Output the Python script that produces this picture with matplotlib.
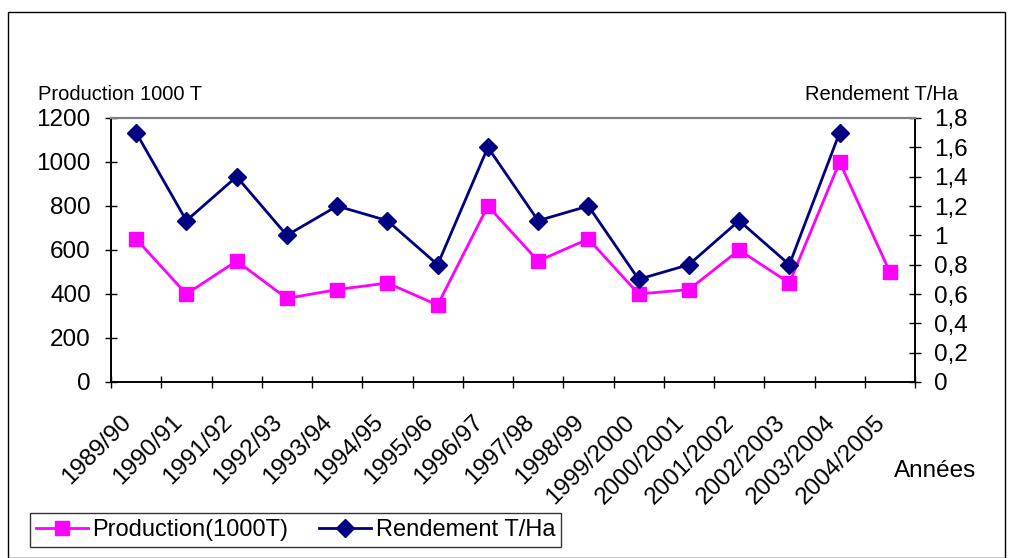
import numpy as np
import matplotlib
matplotlib.use("Agg")
import matplotlib.pyplot as plt
from matplotlib.patches import Rectangle

plt.rcParams['font.family'] = ['Liberation Sans', 'DejaVu Sans']

# données
annees = ["1989/90", "1990/91", "1991/92", "1992/93", "1993/94", "1994/95",
          "1995/96", "1996/97", "1997/98", "1998/99", "1999/2000", "2000/2001",
          "2001/2002", "2002/2003", "2003/2004", "2004/2005"]
production = [650, 400, 550, 380, 420, 450, 350, 800, 550, 650, 400, 420,
              600, 450, 1000, 500]
rendement = [1.7, 1.1, 1.4, 1.0, 1.2, 1.1, 0.8, 1.6, 1.1, 1.2, 0.7, 0.8,
             1.1, 0.8, 1.7, np.nan]

left_ticks = [0, 200, 400, 600, 800, 1000, 1200]
right_ticks = [0, 0.2, 0.4, 0.6, 0.8, 1.0, 1.2, 1.4, 1.6, 1.8]
right_labels = ["0", "0,2", "0,4", "0,6", "0,8", "1", "1,2", "1,4", "1,6", "1,8"]

W, H = 1014, 558
fig = plt.figure(figsize=(W / 100, H / 100), dpi=100)
ax = fig.add_axes([111 / W, 1 - 382 / H, (915 - 111) / W, (382 - 118) / H])
ax2 = ax.twinx()

x = np.arange(len(annees))
l1, = ax.plot(x, production, color='#FF00FF', lw=2, marker='s', ms=9.5,
              label="Production(1000T)")
l2, = ax2.plot(x, rendement, color='#000080', lw=2, marker='D', ms=9,
               label="Rendement T/Ha")

ax.set_xlim(-0.5, len(annees) - 0.5)
ax.set_ylim(0, 1200)
ax2.set_ylim(0, 1.8)

ax.set_yticks(left_ticks)
ax.set_yticklabels([str(v) for v in left_ticks])
ax2.set_yticks(right_ticks)
ax2.set_yticklabels(right_labels)

# ticks x : repères entre catégories, étiquettes au centre
ax.set_xticks(x)
ax.set_xticklabels(annees, rotation=45, ha='right', va='top', fontsize=17.5)
ax.set_xticks(np.arange(-0.5, len(annees)), minor=True)
ax.tick_params(axis='x', which='major', length=0, pad=21)
ax.tick_params(axis='x', which='minor', direction='inout', length=9, width=1)
ax.tick_params(axis='y', direction='inout', length=9, width=1, pad=10, labelsize=17.5)
ax2.tick_params(axis='y', direction='inout', length=9, width=1, pad=9, labelsize=17.5)

for a in (ax, ax2):
    a.spines['top'].set_color('#808080')
    a.spines['top'].set_linewidth(1.5)
    for s in ('left', 'right', 'bottom'):
        a.spines[s].set_linewidth(1.2)

fig.text(38 / W, 1 - 100 / H, "Production 1000 T", fontsize=14.5, va='baseline', ha='left')
fig.text(958 / W, 1 - 100 / H, "Rendement T/Ha", fontsize=14.5, va='baseline', ha='right')
fig.text(894 / W, 1 - 477 / H, "Années", fontsize=17.5, va='baseline', ha='left')

leg = fig.legend([l1, l2], [l1.get_label(), l2.get_label()], ncol=2,
                 loc='lower left', bbox_to_anchor=(30 / W, 1 - 547 / H),
                 fontsize=17, frameon=True, fancybox=False, edgecolor='black',
                 borderpad=0.25, handlelength=2.2, handletextpad=0.2,
                 columnspacing=1.3, borderaxespad=0)
leg.get_frame().set_linewidth(1)

# cadre extérieur
fig.patches.append(Rectangle((8 / W, 0), (1005 - 8) / W, 1 - 12 / H,
                             transform=fig.transFigure, fill=False,
                             edgecolor='black', lw=1))

fig.savefig("out.png", dpi=100)
